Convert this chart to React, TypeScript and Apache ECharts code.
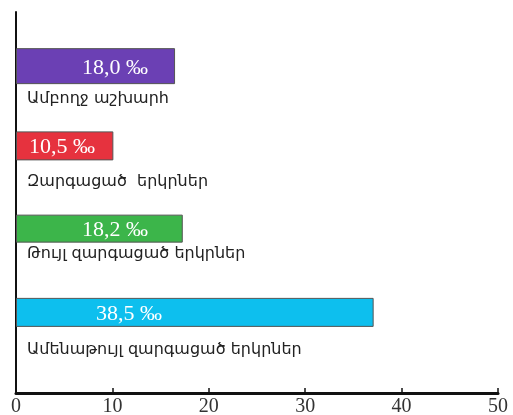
import React, { useEffect, useRef } from "react";
import * as echarts from "echarts";

const categories = [
  "Ամբողջ աշխարհ",
  "Զարգացած  երկրներ",
  "Թույլ զարգացած երկրներ",
  "Ամենաթույլ զարգացած երկրներ",
];
// bar lengths as drawn in the picture
const barLengths = [16.5, 10.1, 17.3, 37.1];
// values printed inside the bars
const printedValues = [18.0, 10.5, 18.2, 38.5];
const barColors = ["#6b40b4", "#e6323e", "#3cb54a", "#0dbfee"];
const xTicks = [0, 10, 20, 30, 40, 50];

const barHeights = [36, 29, 28, 29];
const labelDistances = [66, 13, 66, 80];
const catLabelPads = [69, 69, 47, 73];

export default function App() {
  const ref = useRef<HTMLDivElement>(null);
  useEffect(() => {
    if (!ref.current) return;
    const chart = echarts.init(ref.current, null, { renderer: "svg" });
    const rich: Record<string, any> = {};
    catLabelPads.forEach((p, i) => {
      rich["c" + i] = {
        fontFamily: "DejaVu Sans",
        fontSize: 16,
        color: "#222",
        padding: [p, 0, 0, 0],
      };
    });
    const series = barLengths.map((v, i) => ({
      type: "bar",
      xAxisIndex: 1,
      yAxisIndex: 1,
      barWidth: barHeights[i],
      barGap: "-100%",
      data: barLengths.map((val, j) => (j === i ? val : "-")),
      itemStyle: {
        color: barColors[i],
        borderColor: "#555",
        borderWidth: 1,
      },
      label: {
        show: true,
        position: "insideLeft",
        distance: labelDistances[i],
        color: "#fff",
        fontFamily: "Liberation Serif",
        fontSize: 22,
        formatter: () => printedValues[i].toFixed(1).replace(".", ",") + " ‰",
      },
    }));
    chart.setOption({
      animation: false,
      grid: [
        { left: 16, right: 15, top: 12, bottom: 20, containLabel: false },
        { left: 16, right: 15, top: 21, bottom: 61, containLabel: false },
      ],
      xAxis: [
        {
          type: "value",
          gridIndex: 0,
          min: xTicks[0],
          max: xTicks[xTicks.length - 1],
          interval: 10,
          axisLine: { show: true, lineStyle: { color: "#111", width: 3 } },
          axisTick: { show: true, inside: true, length: 5, lineStyle: { color: "#111", width: 1.5 } },
          axisLabel: {
            color: "#333",
            fontFamily: "Liberation Serif",
            fontSize: 20,
            margin: 2,
          },
          splitLine: { show: false },
        },
        {
          type: "value",
          gridIndex: 1,
          min: xTicks[0],
          max: xTicks[xTicks.length - 1],
          show: false,
        },
      ],
      yAxis: [
        {
          type: "value",
          gridIndex: 0,
          min: 0,
          max: 1,
          axisLine: { show: true, lineStyle: { color: "#111", width: 2 } },
          axisTick: { show: false },
          axisLabel: { show: false },
          splitLine: { show: false },
        },
        {
          type: "category",
          gridIndex: 1,
          inverse: true,
          data: categories,
          axisLine: { show: false },
          axisTick: { show: false },
          axisLabel: {
            inside: true,
            margin: 11,
            align: "left",
            verticalAlign: "middle",
            formatter: (value: string, index: number) => `{c${index}|${value}}`,
            rich,
          },
          splitLine: { show: false },
        },
      ],
      series,
    });
    return () => chart.dispose();
  }, []);
  return (
    <div
      ref={ref}
      style={{ position: "fixed", left: 0, top: 0, width: 513, height: 415 }}
    />
  );
}
